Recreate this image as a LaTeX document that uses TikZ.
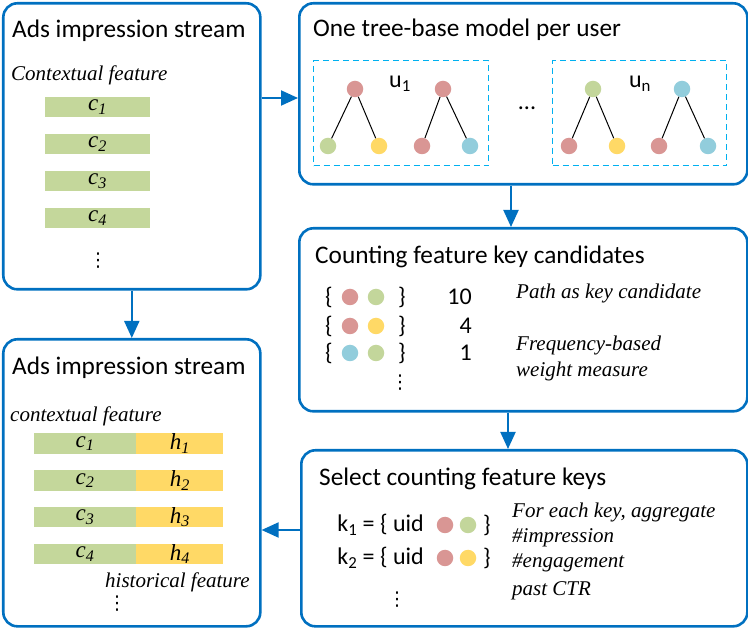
\documentclass[tikz,border=0pt]{standalone}
\usepackage{fontspec}
\setmainfont{Carlito}
\newfontfamily\serif{Liberation Serif}
\newfontfamily\dejavu{DejaVu Sans}
\usetikzlibrary{arrows.meta}
\definecolor{flowblue}{RGB}{0,112,192}
\definecolor{dashblue}{RGB}{0,176,240}
\definecolor{barGreen}{RGB}{196,215,155}
\definecolor{barYellow}{RGB}{255,217,102}
\definecolor{dotRed}{RGB}{217,150,148}
\definecolor{dotGreen}{RGB}{195,214,155}
\definecolor{dotBlue}{RGB}{146,205,220}
\definecolor{dotYellow}{RGB}{255,217,102}
\newcommand{\feat}[2]{{\serif\itshape #1\textsubscript{#2}}}
\newcommand{\colondots}{{\dejavu\fontsize{19}{22}\selectfont ⋮}}
\tikzset{
  panel/.style={draw=flowblue,line width=2.6pt,rounded corners=14pt,anchor=north west,inner sep=0pt},
  heading/.style={anchor=base west,inner sep=0pt,font=\fontsize{25.3}{29}\selectfont},
  note/.style={anchor=base west,inner sep=0pt,font=\serif\itshape\fontsize{21}{24}\selectfont},
  sym/.style={inner sep=0pt,font=\fontsize{24}{28}\selectfont},
  cbar/.style={fill=barGreen,minimum height=20.5pt,inner sep=0pt,font=\fontsize{23}{26}\selectfont},
  hbar/.style={fill=barYellow,minimum height=20.5pt,inner sep=0pt,font=\fontsize{23}{26}\selectfont},
  ball/.style={circle,inner sep=0pt,minimum size=16.5pt},
  branch/.style={draw=black,line width=1pt},
  dashbox/.style={draw=dashblue,dashed,dash pattern=on 6pt off 4pt,line width=1.3pt,anchor=north west,inner sep=0pt},
  flow/.style={draw=flowblue,line width=2pt,-{Triangle[length=17pt,width=15pt]}}
}
\begin{document}
\begin{tikzpicture}[x=1pt,y=-1pt]
\useasboundingbox (0,0) rectangle (748,628);
\node[panel,minimum width=257pt,minimum height=286pt] (ads) at (2,2) {};
\node[panel,minimum width=448pt,minimum height=181pt] (model) at (298,2) {};
\node[panel,minimum width=448pt,minimum height=183pt] (cand) at (298,227) {};
\node[panel,minimum width=446pt,minimum height=176pt] (keys) at (300,449) {};
\node[panel,minimum width=257pt,minimum height=287pt] (hist) at (2,338) {};
\node[heading] (adsTitle) at (12,38) {Ads impression stream};
\node[heading] (modelTitle) at (313,37) {One tree-base model per user};
\node[heading] (candTitle) at (315,264) {Counting feature key candidates};
\node[heading] (keysTitle) at (319,486) {Select counting feature keys};
\node[heading] (histTitle) at (12,375) {Ads impression stream};
\node[note] (ctxNote) at (11,81) {Contextual feature};
\foreach \i/\y in {1/107,2/144,3/181,4/218}
  \node[cbar,minimum width=105pt] (ctx\i) at (97.5,\y) {\feat{c}{\i}};
\node[sym] (ctxMore) at (98,261) {\colondots};
\node[dashbox,minimum width=175pt,minimum height=105pt] (userOne) at (313,60) {};
\node[dashbox,minimum width=174pt,minimum height=105pt] (userN) at (552,60) {};
\node[sym] (uOne) at (400,84) {u\textsubscript{1}};
\node[sym] (uN) at (640,84) {u\textsubscript{n}};
\node[sym] (userGap) at (527,108) {...};
\foreach \t/\rx/\lx/\qx/\rc/\lc/\qc in {a/355/328/379/dotRed/dotGreen/dotYellow,b/443/422/470/dotRed/dotRed/dotBlue,c/593/569/617/dotGreen/dotRed/dotYellow,d/682/659/708/dotBlue/dotRed/dotBlue}{
  \node[ball,fill=\rc] (\t root) at (\rx,89) {};
  \node[ball,fill=\lc] (\t left) at (\lx,146) {};
  \node[ball,fill=\qc] (\t right) at (\qx,146) {};
  \draw[branch] (\t root) -- (\t left);
  \draw[branch] (\t root) -- (\t right);
}
\foreach \r/\y/\ca/\cb/\n in {1/297/dotRed/dotGreen/10,2/326/dotRed/dotYellow/4,3/353/dotBlue/dotGreen/1}{
  \node[sym] (open\r) at (329,\y) {\{};
  \node[ball,fill=\ca] (pa\r) at (350,\y) {};
  \node[ball,fill=\cb] (pb\r) at (376,\y) {};
  \node[sym] (close\r) at (402,\y) {\}};
  \node[sym,anchor=east] (count\r) at (472,\y) {\n};
}
\node[sym] (candMore) at (400,383) {\colondots};
\node[note] (pathNote) at (516,299) {Path as key candidate};
\node[note] (freqNote) at (516,351) {Frequency-based};
\node[note] (weightNote) at (516,377) {weight measure};
\foreach \r/\y/\cb in {1/525/dotGreen,2/558/dotYellow}{
  \node[sym,anchor=east] (key\r) at (424,\y) {k\textsubscript{\r} = \{ uid};
  \node[ball,fill=dotRed] (ka\r) at (445,\y) {};
  \node[ball,fill=\cb] (kb\r) at (468,\y) {};
  \node[sym] (kend\r) at (487,\y) {\}};
}
\node[sym] (keysMore) at (397,600) {\colondots};
\node[note] (aggNote) at (512,518) {For each key, aggregate};
\node[note] (impNote) at (512,543) {\#impression};
\node[note] (engNote) at (512,568) {\#engagement};
\node[note] (ctrNote) at (512,595) {past CTR};
\node[note] (ctxhNote) at (10,422) {contextual feature};
\foreach \i/\y in {1/443.5,2/480.5,3/517,4/554}{
  \node[cbar,minimum width=102pt] (ctxh\i) at (85,\y) {\feat{c}{\i}};
  \node[hbar,minimum width=87pt,anchor=west] (his\i) at (ctxh\i.east) {\feat{h}{\i}};
}
\node[note] (hisNote) at (105,587) {historical feature};
\node[sym] (histMore) at (117,604) {\colondots};
\draw[flow] (ads.east |- 0,98) -- (model.west |- 0,98);
\draw[flow] (model.south -| 511,0) -- (cand.north -| 511,0);
\draw[flow] (cand.south -| 508,0) -- (keys.north -| 508,0);
\draw[flow] (ads.south) -- (hist.north);
\draw[flow] (keys.west |- 0,530) -- (hist.east |- 0,530);
\end{tikzpicture}
\end{document}
